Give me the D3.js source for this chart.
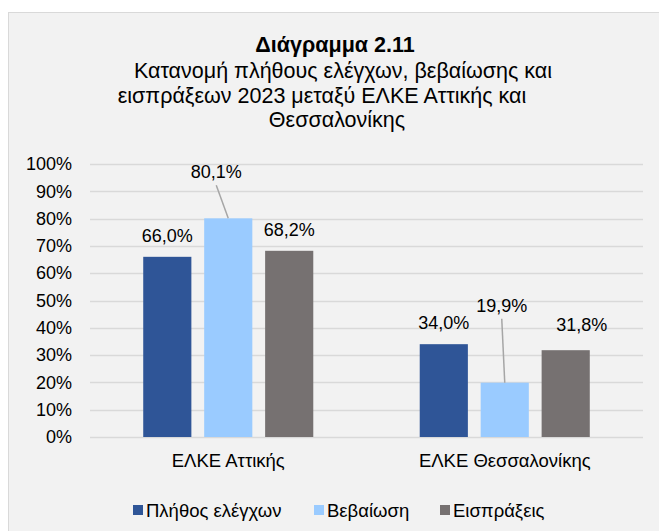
<!DOCTYPE html>
<html>
<head>
<meta charset="utf-8">
<script src="https://cdn.jsdelivr.net/npm/d3@7"></script>
<style>
  body { margin: 0; background: #fff; }
  svg { display: block; font-family: "Liberation Sans", Arial, sans-serif; }
</style>
</head>
<body>
<svg id="chart" width="659" height="531"></svg>
<script>
const categories = ['ΕΛΚΕ Αττικής', 'ΕΛΚΕ Θεσσαλονίκης'];
const seriesNames = ['Πλήθος ελέγχων', 'Βεβαίωση', 'Εισπράξεις'];
const seriesColors = ['#2F5597', '#9ACBFF', '#767171'];
// values in %, one array per series (Αττική, Θεσσαλονίκη)
const plithos = [66.0, 34.0];
const vevaiosi = [80.1, 19.9];
const eispraxeis = [68.2, 31.8];
const yTicks = [0, 10, 20, 30, 40, 50, 60, 70, 80, 90, 100];
const titleLines = ['Κατανομή πλήθους ελέγχων, βεβαίωσης και', 'εισπράξεων 2023 μεταξύ ΕΛΚΕ Αττικής και', 'Θεσσαλονίκης'];

const values = [plithos, vevaiosi, eispraxeis];

// label nudges as in the original (Excel moved some of them by hand)
const labelShift = [
  [[0, 0], [0, 0]],
  [[-12, -25], [-3, -56]],
  [[0, 0], [16, -4]]
];

const svg = d3.select('#chart');
const margin = { top: 164, left: 90, right: 16, bottom: 94 };

svg.append('rect')
  .attr('x', 8.5).attr('y', 12.5)
  .attr('width', 680).attr('height', 560)
  .attr('fill', '#F2F2F2')
  .attr('stroke', '#D9D9D9');

const title = svg.append('text')
  .attr('text-anchor', 'middle')
  .attr('font-size', 21.5)
  .attr('fill', '#000');
title.append('tspan').attr('x', 335).attr('y', 52)
  .attr('font-weight', 'bold').text('Διάγραμμα 2.11');
const titleDx = [8, -13, 2];
titleLines.forEach((t, i) => {
  title.append('tspan').attr('x', 335 + titleDx[i]).attr('y', 78 + i * 24.5).text(t);
});

const x0 = d3.scaleBand()
  .domain(categories)
  .range([margin.left, 643])
  .paddingInner(0.385)
  .paddingOuter(0.1925);

const x1 = d3.scaleBand()
  .domain(d3.range(seriesNames.length))
  .range([0, x0.bandwidth()])
  .paddingInner(0.21);

const y = d3.scaleLinear()
  .domain([0, 100])
  .range([437, margin.top]);

// grid
svg.append('g')
  .selectAll('line')
  .data(yTicks)
  .join('line')
  .attr('x1', margin.left).attr('x2', 643)
  .attr('y1', d => Math.round(y(d)) + 0.5)
  .attr('y2', d => Math.round(y(d)) + 0.5)
  .attr('stroke', '#D9D9D9')
  .attr('stroke-width', 1.5);

const yAxis = svg.append('g')
  .attr('transform', `translate(${margin.left},0)`)
  .call(d3.axisLeft(y).tickValues(yTicks).tickSize(0).tickPadding(18).tickFormat(d => d + '%'));
yAxis.select('.domain').remove();
yAxis.selectAll('text').attr('font-size', 18).attr('fill', '#000').attr('font-family', null);

const xAxis = svg.append('g')
  .attr('transform', 'translate(0,437)')
  .call(d3.axisBottom(x0).tickSize(0).tickPadding(17));
xAxis.select('.domain').remove();
xAxis.selectAll('text').attr('font-size', 18.5).attr('fill', '#000').attr('font-family', null);

const rows = [];
values.forEach((arr, s) => {
  arr.forEach((v, c) => rows.push({ s, c, v, cat: categories[c] }));
});

svg.append('g')
  .selectAll('rect')
  .data(rows)
  .join('rect')
  .attr('x', d => x0(d.cat) + x1(d.s))
  .attr('y', d => y(d.v))
  .attr('width', x1.bandwidth())
  .attr('height', d => y(0) - y(d.v))
  .attr('fill', d => seriesColors[d.s]);

const fmt = v => v.toFixed(1).replace('.', ',') + '%';

const labels = svg.append('g');
rows.forEach(d => {
  const cx = x0(d.cat) + x1(d.s) + x1.bandwidth() / 2;
  const [dx, dy] = labelShift[d.s][d.c];
  const lx = cx + dx;
  const ly = y(d.v) - 15 + dy;
  if (dy < -10) {
    labels.append('line')
      .attr('x1', lx).attr('y1', ly + 7)
      .attr('x2', cx).attr('y2', y(d.v))
      .attr('stroke', '#A6A6A6')
      .attr('stroke-width', 1.5);
  }
  labels.append('text')
    .attr('x', lx).attr('y', ly)
    .attr('text-anchor', 'middle')
    .attr('font-size', 18)
    .text(fmt(d.v));
});

// legend
const legendX = [133, 314, 440];
const legend = svg.append('g');
seriesNames.forEach((name, i) => {
  legend.append('rect')
    .attr('x', legendX[i]).attr('y', 505)
    .attr('width', 10).attr('height', 10)
    .attr('fill', seriesColors[i]);
  legend.append('text')
    .attr('x', legendX[i] + 13).attr('y', 517)
    .attr('font-size', 18.5)
    .text(name);
});
</script>
</body>
</html>
